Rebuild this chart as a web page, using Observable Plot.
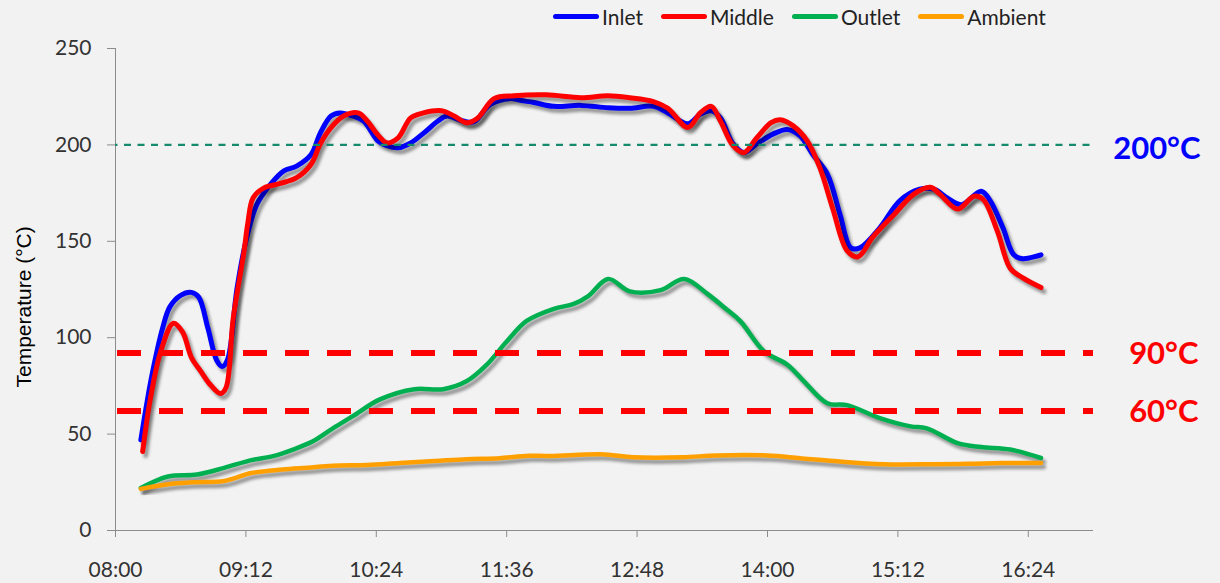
<!DOCTYPE html>
<html>
<head>
<meta charset="utf-8">
<script src="https://cdn.jsdelivr.net/npm/d3@7"></script>
<script src="https://cdn.jsdelivr.net/npm/@observablehq/plot@0.6"></script>
<style>
  html, body { margin: 0; padding: 0; background: #f2f2f2; }
  #wrap { width: 1220px; height: 583px; position: relative; overflow: hidden; background: #f2f2f2; }
  #legend { height: 33px; display: flex; align-items: center; padding-left: 553px; box-sizing: border-box;
            font-family: Lato, "Open Sans", sans-serif; font-size: 21px; color: #222; }
  #legend .item { display: flex; align-items: center; margin-right: 18px; }
  #legend .sw { display: inline-block; width: 46px; height: 5px; border-radius: 3px; margin-right: 3px; }
  svg { display: block; }
</style>
</head>
<body>
<div id="wrap">
  <div id="legend"></div>
  <div id="chart"></div>
</div>
<script>
// ---- data (time "HH:MM", temperature °C) ----
const seriesNames = ["Inlet", "Middle", "Outlet", "Ambient"];
const seriesColors = ["#0000ff", "#ff0000", "#00b050", "#ffa000"];

const inlet = [
  ["08:14",47],["08:20",80],["08:26",105],["08:30",116],["08:36",122],["08:42",123.5],["08:46",121],
  ["08:51",105],["08:56",88],["08:59",85],["09:02",89],["09:07",125],["09:12",150],["09:18",169],
  ["09:26",180],["09:33",186.5],["09:40",189],["09:48",195],["09:53",206],["09:59",215],["10:04",216.6],
  ["10:11",215],["10:17",212.4],["10:25",202],["10:30",199.6],["10:36",198.5],["10:43",201],["10:50",206],
  ["10:58",212.4],["11:03",215],["11:12",212.4],["11:18",212],["11:27",221],["11:38",224],["11:44",223],
  ["11:51",222],["12:02",220],["12:17",220.5],["12:32",219.3],["12:44",219],["12:57",220],["13:05",216.6],
  ["13:16",211],["13:23",216],["13:29",217.7],["13:34",214],["13:41",200.5],["13:47",196],["13:54",200.5],
  ["14:03",205.6],["14:11",208],["14:18",204.7],["14:25",195],["14:33",185],["14:40",164],["14:46",146.6],
  ["14:51",146.6],["15:02",157],["15:13",171],["15:24",177],["15:32",177],["15:39",172.6],["15:47",169],
  ["15:58",176],["16:03",171],["16:10",157],["16:16",143],["16:21",141],["16:31",143]
];
const middle = [
  ["08:15",41],["08:19",67],["08:25",93],["08:32",107.5],["08:37",103],["08:42",89.5],["08:47",82.7],
  ["08:52",76],["08:58",71],["09:01",74],["09:05",110],["09:11",145],["09:13",159],["09:16",172.6],
  ["09:22",177.7],["09:31",180],["09:40",183],["09:48",190],["09:53",200.5],["09:59",209],["10:06",215],
  ["10:14",216.6],["10:19",212.4],["10:25",205],["10:30",201],["10:36",203.6],["10:43",214],["10:50",216.6],
  ["11:00",217.7],["11:07",215],["11:14",211.5],["11:20",214],["11:29",224],["11:40",225.5],["11:58",226],
  ["12:17",224.5],["12:32",225.5],["12:44",224.5],["12:57",222.5],["13:05",219],["13:16",209],["13:23",216.7],
  ["13:29",220],["13:34",212.4],["13:41",199.6],["13:47",196],["13:54",203.6],["14:02",211.5],["14:07",213],
  ["14:14",210],["14:22",202],["14:29",188],["14:36",167],["14:44",145],["14:50",142],["14:58",152],
  ["15:10",164],["15:21",174.6],["15:30",178],["15:35",174.6],["15:45",166.7],["15:54",173.4],["15:59",171.8],
  ["16:07",155],["16:14",136],["16:21",131],["16:31",126]
];
const outlet = [
  ["08:14",22],["08:29",28],["08:45",29],["09:00",32.5],["09:15",36.5],["09:27",38.6],["09:38",42],
  ["09:49",46.3],["10:00",53],["10:11",59.3],["10:26",68],["10:45",73.3],["11:01",73.3],["11:14",77.5],
  ["11:25",86],["11:36",98],["11:47",108.7],["12:02",115],["12:13",117.5],["12:21",121.6],["12:32",130.5],
  ["12:44",124],["13:01",124.7],["13:14",130.5],["13:27",122.6],["13:37",115],["13:45",108.6],["13:58",93],
  ["14:11",86],["14:20",77.5],["14:33",66],["14:44",65],["15:02",58.3],["15:19",54],["15:28",53],
  ["15:45",45.3],["15:58",43.3],["16:14",42],["16:31",37.6]
];
const ambient = [
  ["08:14",21.6],["08:29",24],["08:43",25],["09:00",25.7],["09:15",29.8],["09:32",31.6],["09:46",32.6],
  ["10:00",33.6],["10:19",34],["10:37",35],["10:56",36],["11:14",37],["11:32",37.5],["11:48",38.8],
  ["12:00",38.6],["12:28",39.5],["12:46",38],["13:13",38],["13:32",38.9],["14:00",38.9],["14:18",37.5],
  ["14:37",36],["15:04",34.4],["15:32",34.4],["15:51",34.6],["16:09",35],["16:31",35]
];

const xTickLabels = ["08:00","09:12","10:24","11:36","12:48","14:00","15:12","16:24"];
const xDomainLabels = ["08:00","17:00"];
const yTicks = [0, 50, 100, 150, 200, 250];
const refValues = [200, 92, 62];
const refLabels = ["200°C", "90°C", "60°C"];
const refColors = ["#0000ff", "#ff0000", "#ff0000"];
const yTitle = "Temperature (°C)";

// ---- helpers ----
const toMin = s => { const [h, m] = s.split(":").map(Number); return h * 60 + m; };
const fmt = v => String(Math.floor(v / 60)).padStart(2, "0") + ":" + String(Math.round(v % 60)).padStart(2, "0");
const allSeries = [inlet, middle, outlet, ambient];
const rows = allSeries.map((arr, i) => arr.map(([t, v]) => ({ t: toMin(t), v, s: seriesNames[i] })));
const widths = [5, 5, 4.5, 4.5];

// legend
const lg = document.getElementById("legend");
seriesNames.forEach((n, i) => {
  const it = document.createElement("div"); it.className = "item";
  const sw = document.createElement("span"); sw.className = "sw"; sw.style.background = seriesColors[i];
  const tx = document.createElement("span"); tx.textContent = n;
  it.appendChild(sw); it.appendChild(tx); lg.appendChild(it);
});

const lineMarks = [];
rows.forEach((r, i) => {
  lineMarks.push(Plot.line(r, { x: "t", y: "v", stroke: "#000", strokeOpacity: 0.38, strokeWidth: widths[i],
    dx: 3, dy: 4, curve: "catmull-rom", strokeLinecap: "round", strokeLinejoin: "round", ariaDescription: "shadow" }));
  lineMarks.push(Plot.line(r, { x: "t", y: "v", stroke: seriesColors[i], strokeWidth: widths[i],
    curve: "catmull-rom", strokeLinecap: "round", strokeLinejoin: "round" }));
});

const refRows = refValues.map((v, i) => ({ v, label: refLabels[i], color: refColors[i] }));
const xTicks = xTickLabels.map(toMin);
const chart = Plot.plot({
  width: 1220, height: 547,
  marginLeft: 115, marginRight: 127, marginTop: 15, marginBottom: 50,
  style: { background: "transparent", overflow: "visible", fontFamily: "Lato, sans-serif" },
  x: { type: "linear", domain: xDomainLabels.map(toMin) },
  y: { domain: [0, 250] },
  marks: [
    Plot.axisY({ ticks: yTicks, tickSize: 8, tickPadding: 16, stroke: "#8c8c8c", fill: "#333", fontSize: 21, label: null }),
    Plot.axisX({ ticks: xTicks, tickFormat: fmt, tickSize: 7, tickPadding: 25, stroke: "#8c8c8c", fill: "#333", fontSize: 21, label: null }),
    Plot.ruleX([toMin(xDomainLabels[0])], { y1: 0, y2: 250, stroke: "#8c8c8c" }),
    Plot.ruleY([0], { stroke: "#8c8c8c" }),
    ...lineMarks,
    Plot.ruleY([refValues[0]], { stroke: "#158a6c", strokeWidth: 2.2, strokeDasharray: "7,6.5", strokeDashoffset: -9 }),
    Plot.ruleY(refValues.slice(1), { stroke: "#ff0000", strokeWidth: 6, strokeDasharray: "24,18", strokeDashoffset: -2 }),
    Plot.text(refRows.slice(0, 1), { y: "v", text: "label", fill: "color",
      frameAnchor: "right", dx: 107, dy: 4, textAnchor: "end", fontWeight: "bold", fontSize: 31, fontFamily: "Lato, sans-serif" }),
    Plot.text(refRows.slice(1), { y: "v", text: "label", fill: "color",
      frameAnchor: "right", dx: 105, dy: 1, textAnchor: "end", fontWeight: "bold", fontSize: 31, fontFamily: "Lato, sans-serif" }),
    Plot.text([yTitle], { y: () => 116, text: d => d, frameAnchor: "left", dx: -91, rotate: -90, textAnchor: "middle",
      fontFamily: "Liberation Sans, Arial, sans-serif", fontSize: 21, fill: "#000" })
  ]
});
document.getElementById("chart").appendChild(chart);

// blurred drop shadows
const ns = "http://www.w3.org/2000/svg";
const defs = document.createElementNS(ns, "defs");
defs.innerHTML = '<filter id="blur" x="-5%" y="-5%" width="110%" height="110%"><feGaussianBlur stdDeviation="1.7"/></filter>';
chart.insertBefore(defs, chart.firstChild);
chart.querySelectorAll('g[aria-description="shadow"]').forEach(g => g.setAttribute("filter", "url(#blur)"));
</script>
</body>
</html>
